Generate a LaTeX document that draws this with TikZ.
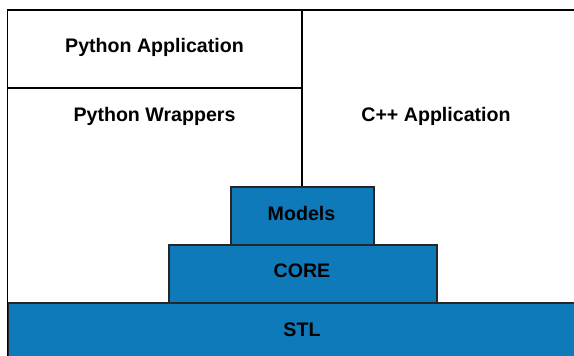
\documentclass[tikz,border=0pt]{standalone}
\usepackage{fontspec}
\setmainfont{Liberation Sans}
\definecolor{layerblue}{RGB}{15,122,185}
\begin{document}
\begin{tikzpicture}[x=1pt,y=-1pt,
  frame/.style={draw=black,line width=1.6pt,fill=white},
  layer/.style={draw=black!85,line width=1.6pt,fill=layerblue},
  label/.style={font=\bfseries\fontsize{19.6}{23}\selectfont,text=black,inner sep=0pt}]
\useasboundingbox (0,0) rectangle (574,356);
\clip (0,0) rectangle (574,356);
% application area
\draw[frame] (7.5,10) rectangle (590,370);
\draw[line width=1.6pt] (302,10) -- (302,186);
\draw[line width=1.6pt] (7.5,88) -- (302,88);
% library layers
\node[layer,anchor=north west,minimum width=582pt,minimum height=60pt,inner sep=0pt] (stl) at (7.5,302) {};
\node[layer,anchor=north west,minimum width=268pt,minimum height=58pt,inner sep=0pt] (core) at (168,244) {};
\node[layer,anchor=north west,minimum width=143pt,minimum height=58pt,inner sep=0pt] (models) at (230,186) {};
% labels
\node[label] (pyapp) at (154.5,47) {Python Application};
\node[label] (pywrap) at (154.5,116) {Python Wrappers};
\node[label] (cppapp) at (436,116) {C++ Application};
\node[label] (tmodels) at (301.5,213) {Models};
\node[label] (tcore) at (302,271) {CORE};
\node[label] (tstl) at (302,330) {STL};
\end{tikzpicture}
\end{document}
